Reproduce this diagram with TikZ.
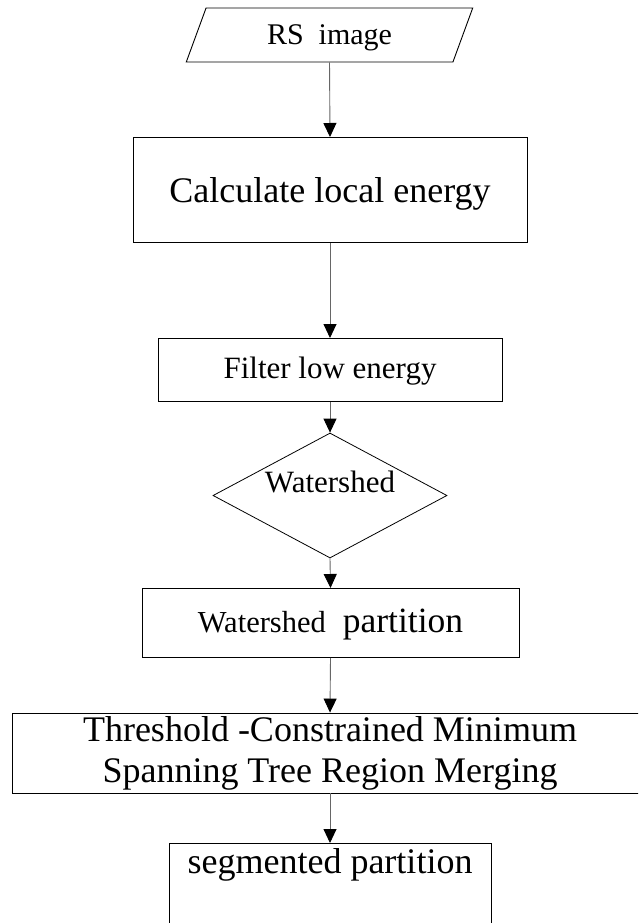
\documentclass[tikz,border=0pt]{standalone}
\usepackage{fontspec}
\setmainfont{Liberation Serif}
\usetikzlibrary{shapes.geometric,arrows.meta}
\begin{document}
\begin{tikzpicture}[x=1pt,y=-1pt,
  box/.style={draw=black,line width=0.9pt,rectangle,inner sep=0pt,anchor=north},
  arr/.style={draw=black!60,line width=0.9pt,-{Triangle[width=13pt,length=14pt,color=black]}},
  fsrs/.style={font=\fontsize{30}{36}\selectfont},
  fsfl/.style={font=\fontsize{31}{37}\selectfont},
  fsws/.style={font=\fontsize{31}{37}\selectfont},
  fsbig/.style={font=\fontsize{36}{41}\selectfont}
]
\useasboundingbox (0,0) rectangle (638,923);
\clip (0,0) rectangle (638,923);

\node[trapezium, trapezium left angle=63.4, trapezium right angle=116.6,
      trapezium stretches=true, draw=black, line width=0.9pt, inner sep=0pt,
      minimum width=287pt, minimum height=54pt, text height=20pt, text depth=0pt,
      fsrs] (rs) at (329.5,35) {RS~ image};

\node[box, minimum width=394pt, text height=65pt, text depth=40pt, fsbig]
  (calc) at (330,137) {Calculate local energy};

\node[box, minimum width=344pt, text height=40pt, text depth=23pt, fsfl]
  (filter) at (330,338) {Filter low energy};

\node[diamond, draw=black, line width=0.8pt, inner sep=0pt, shape aspect=1.87,
      minimum width=234pt, minimum height=125pt, text height=20pt, text depth=26pt,
      fsws] (ws) at (330,495.5) {Watershed};

\node[box, minimum width=377pt, text height=44pt, text depth=25pt]
  (wp) at (330.5,588) {{\fontsize{30.5}{36}\selectfont Watershed}\hspace{17pt}{\fontsize{35.5}{42}\selectfont partition}};

\node[box, anchor=center, minimum width=636pt, minimum height=80pt, align=center, fsbig]
  (thr) at (330,753) {Threshold -Constrained Minimum\\Spanning Tree Region Merging};

\node[box, minimum width=322pt, text height=30pt, text depth=80pt, fsbig]
  (seg) at (330,843) {segmented partition};

\draw[arr] (rs.south) -- (calc.north);
\draw[arr] (calc.south) -- (filter.north);
\draw[arr] (filter.south) -- (ws.north);
\draw[arr] (ws.south) -- (wp.north);
\draw[arr] (wp.south) -- (thr.north);
\draw[arr] (thr.south) -- (seg.north);
\end{tikzpicture}
\end{document}
